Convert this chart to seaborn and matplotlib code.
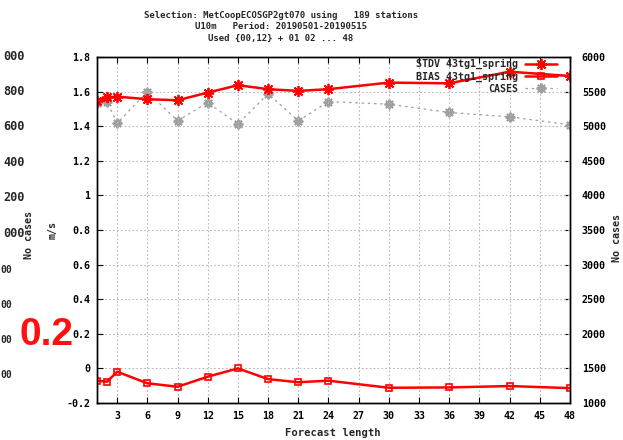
import matplotlib
matplotlib.use("Agg")
import matplotlib.pyplot as plt
import seaborn as sns
import pandas as pd

# ---- data -------------------------------------------------------------
hours = [1, 2, 3, 6, 9, 12, 15, 18, 21, 24, 30, 36, 42, 48]
stdv = [1.547, 1.566, 1.571, 1.556, 1.550, 1.594, 1.637, 1.614, 1.604, 1.614,
        1.652, 1.648, 1.715, 1.690]
bias = [-0.071, -0.077, -0.019, -0.086, -0.106, -0.048, 0.000, -0.062, -0.080,
        -0.071, -0.112, -0.110, -0.102, -0.114]
cases = [5333, 5352, 5045, 5496, 5078, 5342, 5030, 5471, 5078, 5356,
         5318, 5198, 5135, 5020]

xticks = list(range(3, 49, 3))
yticks = [-0.2, 0.0, 0.2, 0.4, 0.6, 0.8, 1.0, 1.2, 1.4, 1.6, 1.8]
ytick_labels = ["-0.2", "0", "0.2", "0.4", "0.6", "0.8", "1", "1.2", "1.4", "1.6", "1.8"]
case_ticks = [1000, 1500, 2000, 2500, 3000, 3500, 4000, 4500, 5000, 5500, 6000]

series_labels = ["STDV 43tg1_spring", "BIAS 43tg1_spring", "CASES"]
title_lines = ["Selection: MetCoopECOSGP2gt070 using   189 stations",
               "U10m   Period: 20190501-20190515",
               "Used {00,12} + 01 02 ... 48"]
# partially visible labels of a neighbouring panel at the far left
side_upper = ["000", "800", "600", "400", "200", "000"]
side_lower = ["00", "00", "00", "00"]

df = pd.DataFrame({"hour": hours, "stdv": stdv, "bias": bias, "cases": cases})

# ---- style ------------------------------------------------------------
sns.set_style("white")
plt.rcParams['font.family'] = ['DejaVu Sans Mono', 'DejaVu Sans']
plt.rcParams['font.weight'] = 'bold'

W, H = 623, 440
fig = plt.figure(figsize=(W / 100, H / 100), dpi=100)
ax = fig.add_axes([97 / W, 1 - 403 / H, 473 / W, 346 / H])
ax2 = ax.twinx()
ax.set_zorder(ax2.get_zorder() + 1)
ax.patch.set_visible(False)

RED = "#ff0000"
GREY = "#a0a0a0"

sns.lineplot(data=df, x="hour", y="cases", ax=ax2, color=GREY, linewidth=0.9,
             linestyle=(0, (2, 3)), marker=(8, 2, 0), markersize=7,
             markeredgewidth=1.4, markeredgecolor=GREY, legend=False)
sns.lineplot(data=df, x="hour", y="stdv", ax=ax, color=RED, linewidth=1.8,
             marker=(8, 2, 0), markersize=8, markeredgewidth=1.3,
             markeredgecolor=RED, legend=False)
sns.lineplot(data=df, x="hour", y="bias", ax=ax, color=RED, linewidth=1.8,
             marker="s", markersize=5, markeredgewidth=1.2,
             markeredgecolor=RED, markerfacecolor="none", legend=False)

ax.set_xlim(1, 48)
ax.set_ylim(-0.2, 1.8)
ax2.set_ylim(1000, 6000)
ax.set_xticks(xticks, [str(t) for t in xticks])
ax.set_yticks(yticks, ytick_labels)
ax2.set_yticks(case_ticks, [str(t) for t in case_ticks])
ax.set_xlabel("")
ax.set_ylabel("")
ax2.set_ylabel("")

ax.grid(True, color="#b8b8b8", linestyle=(0, (1.5, 2)), linewidth=0.8)
ax2.grid(False)
ax.tick_params(axis="both", direction="in", length=4, width=0.8, labelsize=7.2,
               colors="black", top=True, left=True, bottom=True)
ax.tick_params(axis="y", pad=5)
ax.tick_params(axis="x", pad=6)
ax2.tick_params(axis="y", direction="in", length=4, width=0.8, labelsize=7.2,
                pad=8.5, colors="black", right=True)
for a in (ax, ax2):
    for s in a.spines.values():
        s.set_color("black")
        s.set_linewidth(1.0)

# legend (gnuplot-like: text right, sample right)
handles = [ax.get_lines()[0], ax.get_lines()[1], ax2.get_lines()[0]]
ax.legend(handles, series_labels, loc="upper right", markerfirst=False,
          frameon=False, fontsize=7.2, handlelength=3.2, handletextpad=0.7,
          labelspacing=0.2, borderpad=0, borderaxespad=0, numpoints=1,
          bbox_to_anchor=(557 / W, 1 - 59 / H), bbox_transform=fig.transFigure)

# texts
for i, line in enumerate(title_lines):
    fig.text(281 / W, 1 - (15 + 11.8 * i) / H, line, ha="center", va="center",
             fontsize=6.45, weight="bold")
fig.text(333 / W, 1 - 433 / H, "Forecast length", ha="center", va="center",
         fontsize=7.6, weight="bold")
fig.text(53 / W, 1 - 230 / H, "m/s", ha="center", va="center", rotation=90,
         fontsize=7.2, weight="bold")
fig.text(29 / W, 1 - 235 / H, "No cases", ha="center", va="center", rotation=90,
         fontsize=7.2, weight="bold")
fig.text(617 / W, 1 - 238 / H, "No cases", ha="center", va="center", rotation=90,
         fontsize=7.2, weight="bold")
for i, lab in enumerate(side_upper):
    fig.text(25 / W, 1 - (56 + 35.4 * i) / H, lab, ha="right", va="center",
             fontsize=8.6, weight="bold")
for i, lab in enumerate(side_lower):
    fig.text(0.5 / W, 1 - (270 + 35 * i) / H, lab, ha="left", va="center",
             fontsize=7.0, weight="bold")
fig.text(20 / W, 1 - 345 / H, "0.2", ha="left", va="baseline", fontsize=28,
         color="#ff1010", family="Liberation Sans", weight="bold")

fig.savefig("out.png", dpi=100)
